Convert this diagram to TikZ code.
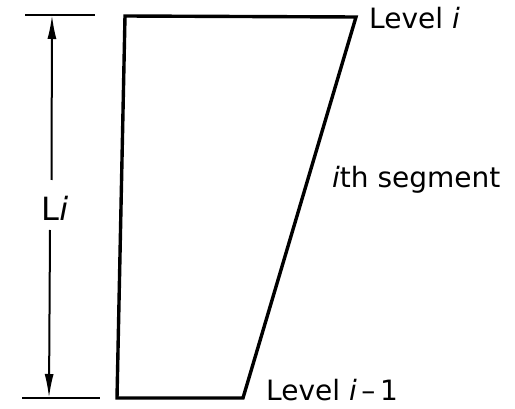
\documentclass[tikz,border=0pt]{standalone}
\usepackage{fontspec}
\setmainfont{DejaVu Sans}
\usetikzlibrary{arrows.meta}
\begin{document}
\begin{tikzpicture}[x=1pt,y=-1pt,
  seg/.style={line width=3.4pt,line join=miter},
  dim/.style={line width=2pt},
  ext/.style={line width=2pt},
  lbl/.style={font=\fontsize{28}{30}\selectfont,inner sep=0pt},
  tip/.style={-{Latex[length=24pt,width=9pt]}}]
\useasboundingbox (0,0) rectangle (515,409);
\coordinate (tl) at (125,16);
\coordinate (tr) at (356,17);
\coordinate (br) at (243,398);
\coordinate (bl) at (117,398);
\draw[seg] (tl) -- (tr) -- (br) -- (bl) -- cycle;
% extension lines
\coordinate (e1a) at (25,15);
\coordinate (e1b) at (95,15);
\coordinate (e2a) at (22,398);
\coordinate (e2b) at (100,398);
\draw[ext] (e1a) -- (e1b);
\draw[ext] (e2a) -- (e2b);
% dimension
\node[lbl,font=\fontsize{32}{34}\selectfont] (L) at (55,208) {L\textit{i}};
\coordinate (dt) at (52,15);
\coordinate (db) at (49,398);
\coordinate (gt) at (51.5,180);
\coordinate (gb) at (50,230);
\draw[dim,tip] (gt) -- (dt);
\draw[dim,tip] (gb) -- (db);
% labels
\node[lbl,anchor=base west] (li) at (369,29) {Level \textit{i}};
\node[lbl,anchor=base west] (lim) at (266,401) {Level \textit{i}\,–\,1};
\node[lbl,anchor=base west] (seg) at (332,188) {\textit{i}th segment};
\end{tikzpicture}
\end{document}
